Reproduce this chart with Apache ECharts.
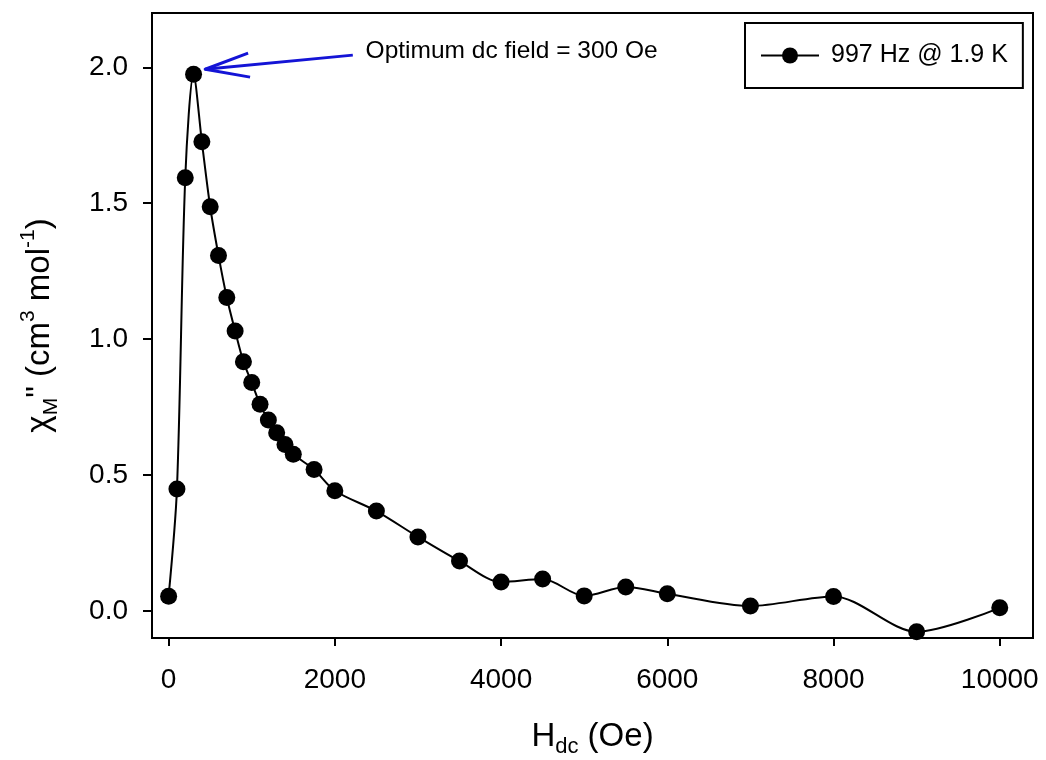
<!DOCTYPE html>
<html>
<head>
<meta charset="utf-8">
<script src="https://cdn.jsdelivr.net/npm/echarts@6/dist/echarts.min.js"></script>
<style>html,body{margin:0;padding:0;background:#fff;}#c{width:1046px;height:760px;}</style>
</head>
<body>
<div id="c"></div>
<script>
// Data
const fieldOe = [0, 100, 200, 300, 400, 500, 600, 700, 800, 900, 1000, 1100, 1200, 1300, 1400, 1500, 1750, 2000, 2500, 3000, 3500, 4000, 4500, 5000, 5500, 6000, 7000, 8000, 9000, 10000];
const chiM2 = [0.054, 0.448, 1.594, 1.975, 1.726, 1.487, 1.308, 1.153, 1.030, 0.917, 0.840, 0.760, 0.702, 0.655, 0.612, 0.576, 0.520, 0.442, 0.367, 0.272, 0.183, 0.106, 0.117, 0.055, 0.088, 0.063, 0.018, 0.053, -0.077, 0.011];
const xTicks = [0, 2000, 4000, 6000, 8000, 10000];
const yTicks = [0, 0.5, 1.0, 1.5, 2.0];
const seriesName = '997 Hz @ 1.9 K';
const annotationText = 'Optimum dc field = 300 Oe';
// annotation anchor points in data units
const arrowTip = [440, 1.993];
const arrowStart = [2216, 2.045];
const barbUpper = [956, 2.052];
const barbLower = [980, 1.964];
const textAnchor = [2370, 2.058];

const FONT = 'Liberation Sans, Arial, sans-serif';
const chart = echarts.init(document.getElementById('c'));

const option = {
  animation: false,
  backgroundColor: '#fff',
  grid: { left: 152, right: 13, top: 13, bottom: 122, outerBoundsMode: 'none', containLabel: false, show: true, borderColor: '#000', borderWidth: 2, backgroundColor: 'transparent' },
  legend: {
    left: 745, top: 23,
    padding: [20, 15],
    borderColor: '#000', borderWidth: 2,
    itemWidth: 58, itemHeight: 20,
    textStyle: { fontFamily: FONT, fontSize: 25, color: '#000', padding: [0, 0, 0, 7] },
    data: [seriesName]
  },
  xAxis: {
    type: 'value', min: -200, max: 10400,
    splitLine: { show: false },
    axisLine: { show: true, onZero: false, lineStyle: { color: '#000', width: 2 } },
    axisTick: { show: true, customValues: xTicks, length: 8, lineStyle: { color: '#000', width: 2 } },
    axisLabel: { customValues: xTicks, margin: 28, fontFamily: FONT, fontSize: 28, color: '#000', formatter: v => String(v) },
    name: '{n|H}{sub|dc}{n| (Oe)}',
    nameLocation: 'middle', nameGap: 78,
    nameTextStyle: {
      fontFamily: FONT, fontSize: 33, color: '#000',
      rich: {
        n: { fontFamily: FONT, fontSize: 33, color: '#000', lineHeight: 42, verticalAlign: 'middle' },
        sub: { fontFamily: FONT, fontSize: 22, color: '#000', lineHeight: 22, verticalAlign: 'bottom' }
      }
    }
  },
  yAxis: {
    type: 'value', min: -0.1, max: 2.2,
    splitLine: { show: false },
    axisLine: { show: true, onZero: false, lineStyle: { color: '#000', width: 2 } },
    axisTick: { show: true, customValues: yTicks, length: 9, lineStyle: { color: '#000', width: 2 } },
    axisLabel: { customValues: yTicks, margin: 24, fontFamily: FONT, fontSize: 28, color: '#000', formatter: v => v.toFixed(1) },
    name: '{n|χ}{sub|M}{n|" (cm}{sup|3}{n| mol}{sup|-1}{n|)}',
    nameLocation: 'middle', nameRotate: 90, nameGap: 90,
    nameTextStyle: {
      fontFamily: FONT, fontSize: 33, color: '#000',
      rich: {
        n: { fontFamily: FONT, fontSize: 33, color: '#000', lineHeight: 44, verticalAlign: 'middle' },
        sub: { fontFamily: FONT, fontSize: 21, color: '#000', lineHeight: 21, verticalAlign: 'bottom' },
        sup: { fontFamily: FONT, fontSize: 21, color: '#000', lineHeight: 21, verticalAlign: 'top' }
      }
    }
  },
  series: [{
    name: seriesName,
    type: 'line',
    data: fieldOe.map((x, i) => [x, chiM2[i]]),
    smooth: 0.3,
    symbol: 'circle', symbolSize: 17,
    itemStyle: { color: '#000' },
    lineStyle: { color: '#000', width: 2 },
    z: 3
  }]
};
chart.setOption(option);

function px(p) { return chart.convertToPixel({ gridIndex: 0 }, p); }
const tip = px(arrowTip), st = px(arrowStart), bu = px(barbUpper), bl = px(barbLower), ta = px(textAnchor);
const ARROW = '#1414d6';
chart.setOption({
  graphic: [
    { type: 'polyline', shape: { points: [st, tip] }, style: { stroke: ARROW, lineWidth: 3, fill: null }, z: 10 },
    { type: 'polyline', shape: { points: [bu, tip, bl] }, style: { stroke: ARROW, lineWidth: 3, fill: null, lineJoin: 'round' }, z: 10 },
    { type: 'text', x: ta[0], y: ta[1], style: { text: annotationText, fontFamily: FONT, fontSize: 24.5, fill: '#000', verticalAlign: 'middle', align: 'left' }, z: 10 }
  ]
});
</script>
</body>
</html>
